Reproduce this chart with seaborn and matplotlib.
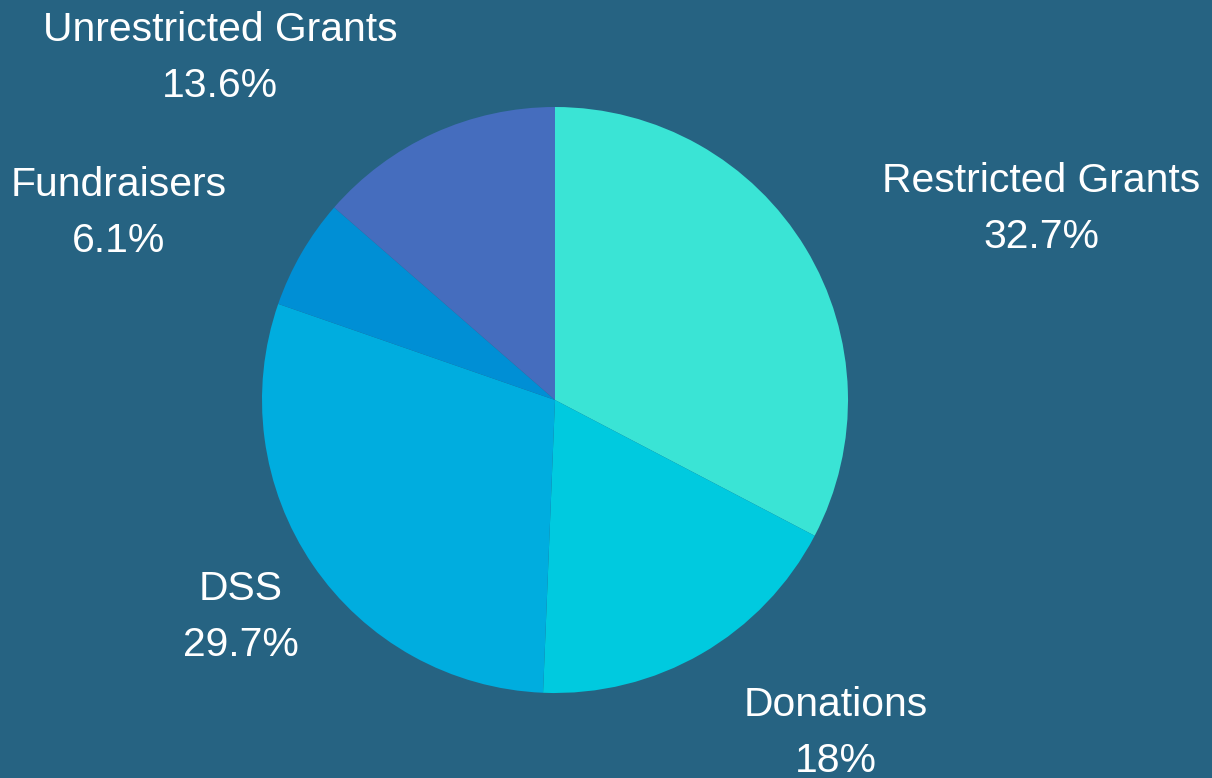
import matplotlib
matplotlib.use("Agg")
import matplotlib.pyplot as plt
import seaborn as sns

# Revenue sources (share of total, %)
sources = ["Restricted Grants", "Donations", "DSS", "Fundraisers", "Unrestricted Grants"]
shares = [32.7, 18, 29.7, 6.1, 13.6]
pct_labels = ["32.7%", "18%", "29.7%", "6.1%", "13.6%"]

slice_colors = ["#3AE4D5", "#00CADF", "#00ADDF", "#008FD5", "#456DBE"]
bg = "#266382"

sns.set_theme(style="white")
plt.rcParams["font.family"] = ["Liberation Sans", "DejaVu Sans"]

W, H = 1212, 778
fig = plt.figure(figsize=(W / 100, H / 100), dpi=100, facecolor=bg)
ax = fig.add_axes([0, 0, 1, 1], facecolor=bg)

# pie drawn in pixel-like units so labels can sit where the original had them
cx, cy, r = 555, H - 400, 293
ax.pie(shares, colors=slice_colors, startangle=90, counterclock=False,
       center=(cx, cy), radius=r, wedgeprops={"linewidth": 0})

# label anchors (pixel position of each text block centre, y from top)
label_pos = [(1041, 209), (836, 733), (241, 617), (119, 213), (220, 58)]
for name, pct, (x, y) in zip(sources, pct_labels, label_pos):
    ax.text(x, H - y, f"{name}\n{pct}", ha="center", va="center",
            color="white", fontsize=29.4, linespacing=1.62)

ax.set_xlim(0, W)
ax.set_ylim(0, H)
ax.set_aspect("equal")
ax.axis("off")

fig.savefig("out.png", dpi=100, facecolor=bg)
